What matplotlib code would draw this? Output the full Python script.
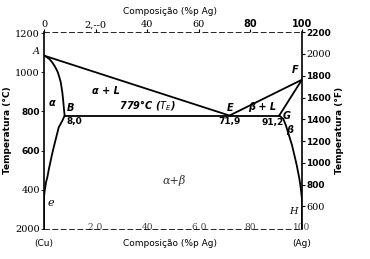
import matplotlib.pyplot as plt
import numpy as np

# composicao (%p Ag) e temperatura (C) das curvas
liq_a_x = [0, 71.9]
liq_a_t = [1085, 779]
liq_f_x = [71.9, 100]
liq_f_t = [779, 962]
sol_a_x = [0, 1.0, 2.2, 3.2, 4.1, 4.8, 5.4, 6.0, 6.5, 6.8, 7.1, 7.3, 7.5, 7.7, 8.0]
sol_a_t = [1085, 1078, 1066, 1050, 1032, 1015, 998, 972, 948, 922, 897, 872, 846, 815, 779]
solv_a_x = [8.0, 7.0, 5.7, 4.9, 4.1, 3.3, 2.6, 1.9, 1.3, 0.8, 0.5, 0.2, 0, 0]
solv_a_t = [779, 750, 719, 677, 635, 592, 550, 507, 465, 440, 415, 390, 364, 200]
sol_f_x = [100, 91.2]
sol_f_t = [962, 779]
solv_f_x = [91.2, 92.0, 92.8, 93.8, 94.6, 95.4, 96.2, 96.8, 97.4, 98.0, 98.5, 99.0, 99.4, 99.7, 100, 100]
solv_f_t = [779, 770, 762, 728, 694, 660, 626, 592, 559, 525, 491, 457, 423, 390, 356, 200]
eut_x = [8.0, 91.2]
eut_t = [779, 779]

c_ticks = [200, 400, 600, 800, 1000, 1200]
c_labels = ['2000', '400', '600', '800', '1000', '1200']
f_ticks = [600, 800, 1000, 1200, 1400, 1600, 1800, 2000, 2200]
x_ticks = [0, 20, 40, 60, 80, 100]


def f_to_c(f):
    return (np.asarray(f) - 32) * 5 / 9


fig = plt.figure(figsize=(3.7, 2.59), dpi=100)
ax = fig.add_axes([0.119, 0.116, 0.697, 0.760])

for xs, ts in [(liq_a_x, liq_a_t), (liq_f_x, liq_f_t), (sol_a_x, sol_a_t),
               (solv_a_x, solv_a_t), (sol_f_x, sol_f_t), (solv_f_x, solv_f_t),
               (eut_x, eut_t)]:
    ax.plot(xs, ts, color='black', lw=1.3, solid_joinstyle='round')

ax.set_xlim(0, 100)
ax.set_ylim(200, 1205)

ax.spines['top'].set_linestyle((0, (6, 4)))
ax.spines['bottom'].set_linestyle((0, (6, 4)))
ax.spines['top'].set_linewidth(0.6)
ax.spines['bottom'].set_linewidth(0.6)
ax.spines['left'].set_linewidth(1.2)
ax.spines['right'].set_linewidth(1.2)

ax.set_yticks(c_ticks)
ax.set_yticklabels(c_labels)
ax.tick_params(axis='y', length=2, width=0.6, pad=1, labelsize=7)
for lab, t in zip(ax.get_yticklabels(), c_ticks):
    if t in (600, 800):
        lab.set_fontweight('bold')
        lab.set_fontsize(6.5)
    else:
        lab.set_family('DejaVu Serif')
        lab.set_fontsize(7)

ax.set_xticks(x_ticks)
ax.set_xticklabels(['', '2 0', '40', '6 0', '80', '100'])
ax.tick_params(axis='x', length=0, pad=-4, labelsize=6.5, colors='#444444')
for lab in ax.get_xticklabels():
    lab.set_family('DejaVu Serif')

top = ax.secondary_xaxis('top')
top.set_xticks(x_ticks)
top.set_xticklabels(['0', '2,--0', '40', '60', '80', '100'])
top.tick_params(length=2, pad=0, labelsize=7)
for lab, v in zip(top.get_xticklabels(), x_ticks):
    if v in (80, 100):
        lab.set_fontweight('bold')
    else:
        lab.set_family('DejaVu Serif')
top.spines['top'].set_visible(False)

right = ax.secondary_yaxis('right', functions=(lambda c: c * 9 / 5 + 32, f_to_c))
right.set_yticks(f_ticks)
right.tick_params(length=2, pad=1, labelsize=6.5)
for lab, f in zip(right.get_yticklabels(), f_ticks):
    if f in (600, 2000):
        lab.set_family('DejaVu Serif')
        lab.set_fontsize(7)
    else:
        lab.set_fontweight('bold')
right.spines['right'].set_visible(False)

ax.set_ylabel('Temperatura (°C)', fontsize=6.5, fontweight='bold', labelpad=2)
right.set_ylabel('Temperatura (°F)', fontsize=6.5, fontweight='bold',
                 rotation=90, labelpad=3)

fig.text(0.46, 0.945, 'Composição (%p Ag)', fontsize=6.5, ha='center')
fig.text(0.119, 0.05, '(Cu)', fontsize=6.5, ha='center')
fig.text(0.46, 0.05, 'Composição (%p Ag)', fontsize=6.5, ha='center')
fig.text(0.816, 0.05, '(Ag)', fontsize=6.5, ha='center')

bi = dict(fontsize=7, fontweight='bold', style='italic')
ax.text(-1.5, 1105, 'A', ha='right', va='center', family='DejaVu Serif',
        style='italic', fontsize=7)
ax.text(24, 905, 'α + L', ha='center', va='center', **bi)
ax.text(3.2, 845, 'α', ha='center', va='center', **bi)
ax.text(8.8, 790, 'B', ha='left', va='bottom', **bi)
ax.text(8.6, 770, '8,0', ha='left', va='top', fontsize=6.5, fontweight='bold')
ax.text(40, 790, '779°C ($T_E$)', ha='center', va='bottom', **bi)
ax.text(72, 790, 'E', ha='center', va='bottom', **bi)
ax.text(72, 770, '71,9', ha='center', va='top', fontsize=6.5,
        fontweight='bold')
ax.text(84.5, 795, 'β + L', ha='center', va='bottom', **bi)
ax.text(98.5, 985, 'F', ha='right', va='bottom', **bi)
ax.text(92.5, 775, 'G', ha='left', va='center', **bi)
ax.text(88.5, 765, '91,2', ha='center', va='top', fontsize=6.5,
        fontweight='bold')
ax.text(96.5, 705, 'β', ha='right', va='center', **bi)
ax.text(50.5, 445, 'α+β', ha='center', va='center', family='DejaVu Serif',
        style='italic', fontsize=8, color='#333333')
ax.text(1.5, 335, 'e', ha='left', va='center', family='DejaVu Serif',
        style='italic', fontsize=8)
ax.text(98.5, 290, 'H', ha='right', va='center', family='DejaVu Serif',
        style='italic', fontsize=7)

fig.savefig('out.png', dpi=100)
